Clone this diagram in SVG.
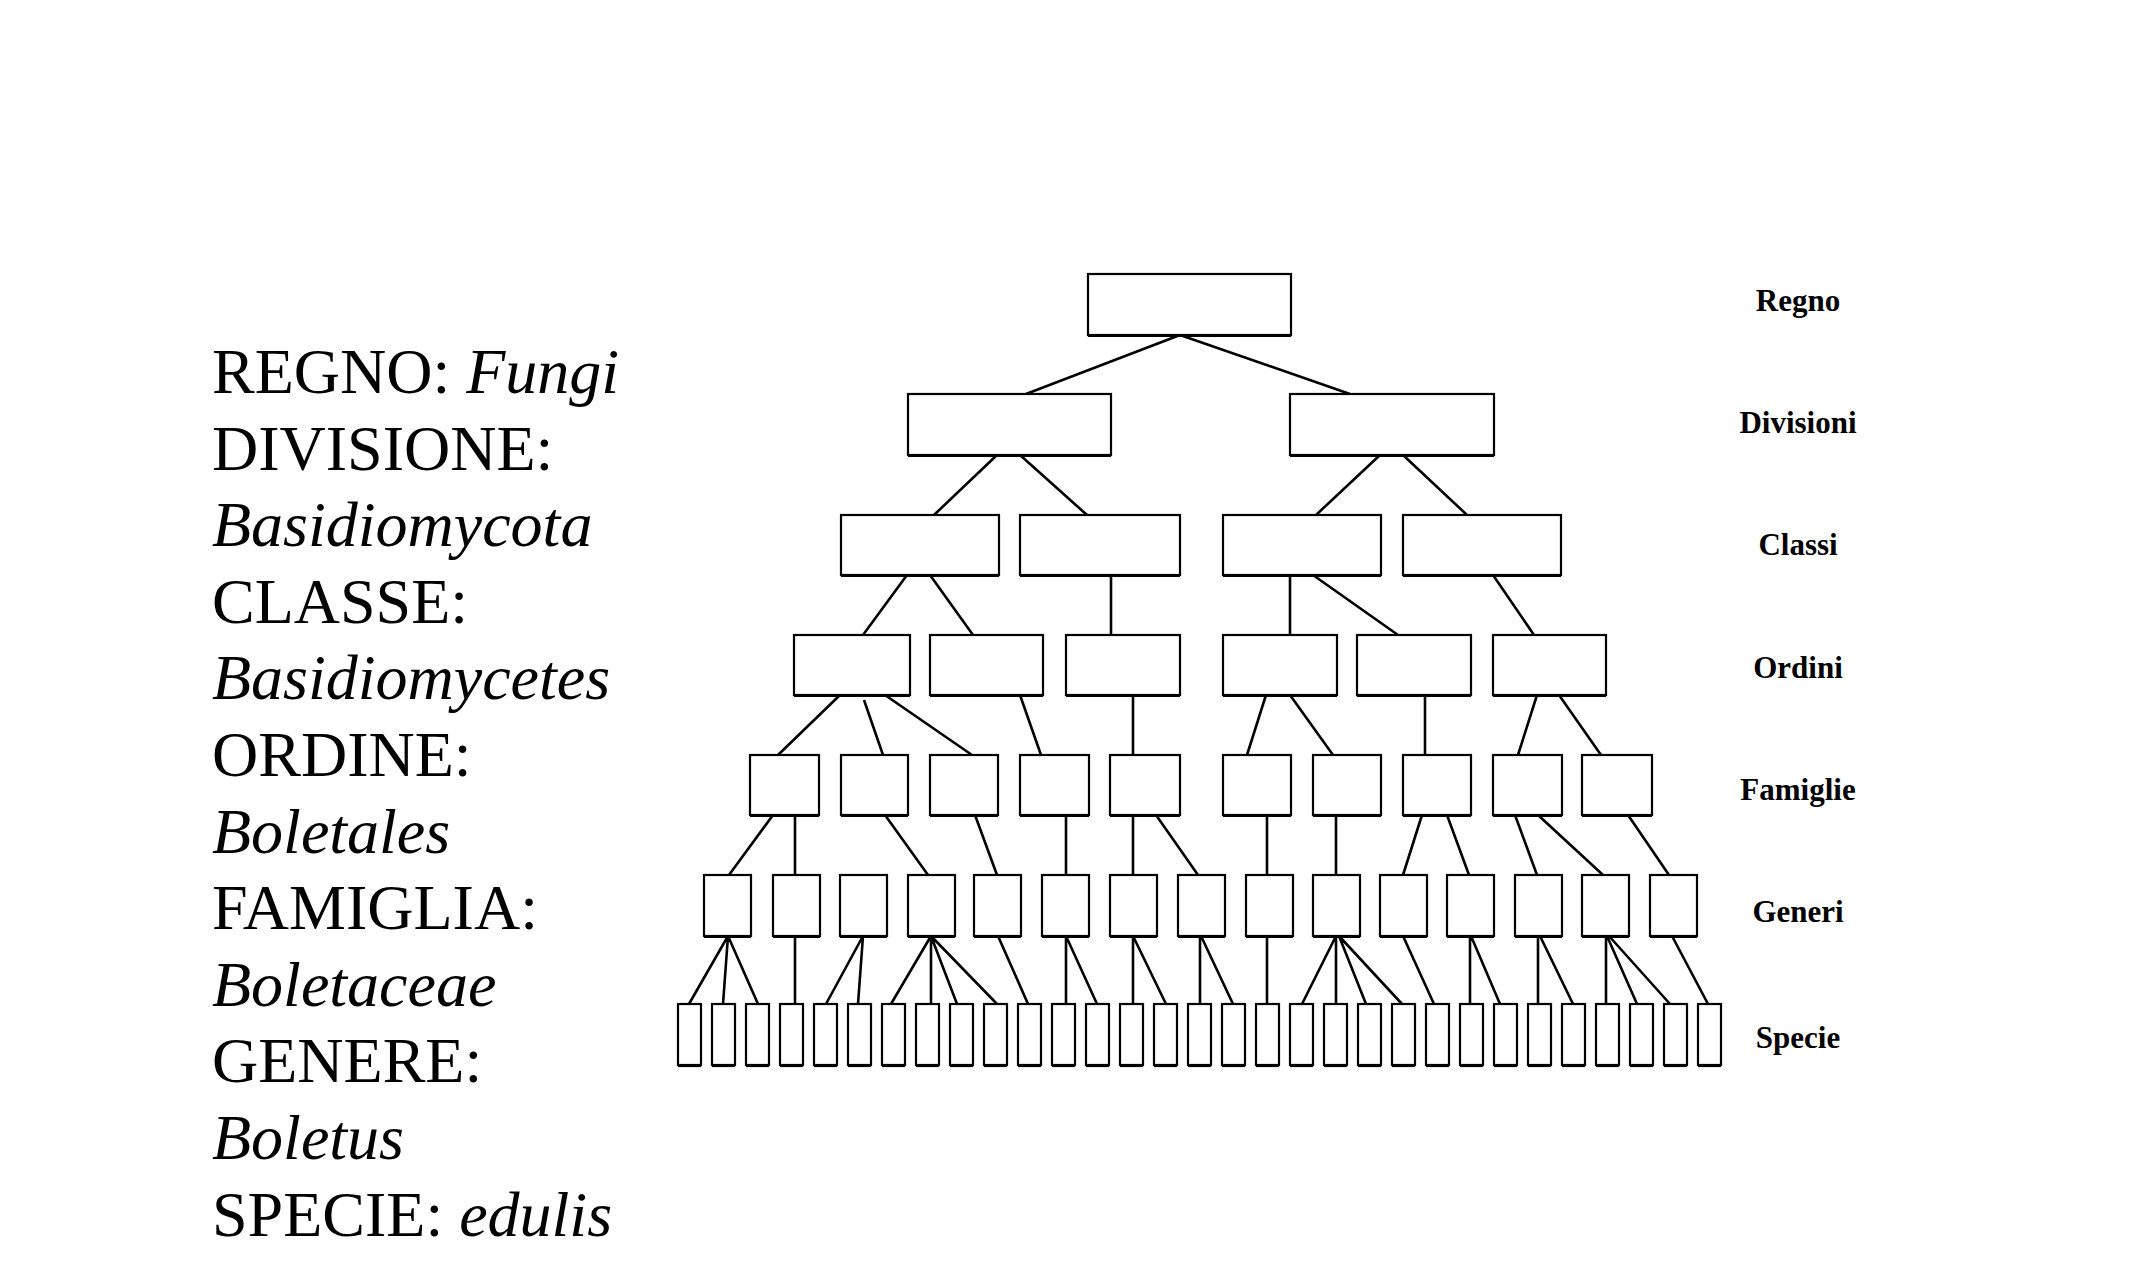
<svg xmlns="http://www.w3.org/2000/svg" width="2144" height="1288" viewBox="0 0 2144 1288">
<style>
.n rect{fill:#fff;stroke:#000;stroke-width:2.2}
.n path{fill:none;stroke:#000;stroke-width:2.2}
#connectors path{fill:none;stroke:#000;stroke-width:2.6}
.lt{font-family:"Liberation Serif","Times New Roman",serif;font-size:64px;fill:#000}
.lt .i{font-style:italic}
.rl{font-family:"Liberation Serif","Times New Roman",serif;font-size:31px;font-weight:bold;fill:#000;text-anchor:middle}
</style>
<rect width="2144" height="1288" fill="#fff"/>
<g id="left-text">
<text class="lt" x="212" y="393">REGNO: <tspan class="i">Fungi</tspan></text>
<text class="lt" x="212" y="469.5">DIVISIONE:</text>
<text class="lt" x="212" y="546"><tspan class="i">Basidiomycota</tspan></text>
<text class="lt" x="212" y="623">CLASSE:</text>
<text class="lt" x="212" y="699"><tspan class="i">Basidiomycetes</tspan></text>
<text class="lt" x="212" y="776">ORDINE:</text>
<text class="lt" x="212" y="852.5"><tspan class="i">Boletales</tspan></text>
<text class="lt" x="212" y="929">FAMIGLIA:</text>
<text class="lt" x="212" y="1006"><tspan class="i">Boletaceae</tspan></text>
<text class="lt" x="212" y="1082">GENERE:</text>
<text class="lt" x="212" y="1159"><tspan class="i">Boletus</tspan></text>
<text class="lt" x="212" y="1235.5">SPECIE: <tspan class="i">edulis</tspan></text>
</g>
<g id="level-labels">
<text class="rl" x="1798" y="311">Regno</text>
<text class="rl" x="1798" y="433">Divisioni</text>
<text class="rl" x="1798" y="555">Classi</text>
<text class="rl" x="1798" y="678">Ordini</text>
<text class="rl" x="1798" y="800">Famiglie</text>
<text class="rl" x="1798" y="922">Generi</text>
<text class="rl" x="1798" y="1048">Specie</text>
</g>
<g id="connectors">
<path d="M1180 335L1026 394M1180 335L1350 394"/>
<path d="M997 455L934 515M1020 455L1087 515M1380 455L1316 515M1403 455L1467 515"/>
<path d="M907 575L863 635M930 575L973 635M1111 575V635M1290 575V635M1313 575L1398 635M1493 575L1534 635"/>
<path d="M840 695L778 755M864 700L883 755M885 695L972 755M1020 695L1041 755M1133 695V755M1266 695L1247 755M1290 695L1333 755M1425 695V755M1537 695L1518 755M1559 695L1601 755"/>
<path d="M773 815L729 875M795 815V875M885 815L928 875M975 815L997 875M1066 815V875M1133 815V875M1156 815L1198 875M1267 815V875M1336 815V875M1422 815L1403 875M1447 815L1469 875M1515 815L1537 875M1538 815L1603 875M1628 815L1669 875"/>
<path d="M728 936L689 1004M728 936L723 1004M728 936L758 1004M795 936V1004M863 936L826 1004M863 936L858 1004M931 936L891 1004M931 936V1004M931 936L957 1004M931 936L997 1004M998 936L1028 1004M1066 936V1004M1066 936L1097 1004M1133 936V1004M1133 936L1166 1004M1200 936V1004M1201 936L1233 1004M1267 936V1004M1336 936L1302 1004M1336 936V1004M1339 936L1366 1004M1339 936L1402 1004M1403 936L1434 1004M1470 936V1004M1471 936L1500 1004M1538 936V1004M1540 936L1573 1004M1606 936V1004M1607 936L1637 1004M1609 936L1670 1004M1672 936L1708 1004"/>
</g>
<g id="regno" class="n"><rect x="1088" y="274" width="203" height="61"/><path d="M1088 336h203"/></g>
<g id="div1" class="n"><rect x="908" y="394" width="203" height="61"/><path d="M908 456h203"/></g>
<g id="div2" class="n"><rect x="1290" y="394" width="204" height="61"/><path d="M1290 456h204"/></g>
<g id="cls1" class="n"><rect x="841" y="515" width="158" height="60"/><path d="M841 576h158"/></g>
<g id="cls2" class="n"><rect x="1020" y="515" width="160" height="60"/><path d="M1020 576h160"/></g>
<g id="cls3" class="n"><rect x="1223" y="515" width="158" height="60"/><path d="M1223 576h158"/></g>
<g id="cls4" class="n"><rect x="1403" y="515" width="158" height="60"/><path d="M1403 576h158"/></g>
<g id="ord1" class="n"><rect x="794" y="635" width="116" height="60"/><path d="M794 696h116"/></g>
<g id="ord2" class="n"><rect x="930" y="635" width="113" height="60"/><path d="M930 696h113"/></g>
<g id="ord3" class="n"><rect x="1066" y="635" width="114" height="60"/><path d="M1066 696h114"/></g>
<g id="ord4" class="n"><rect x="1223" y="635" width="114" height="60"/><path d="M1223 696h114"/></g>
<g id="ord5" class="n"><rect x="1357" y="635" width="114" height="60"/><path d="M1357 696h114"/></g>
<g id="ord6" class="n"><rect x="1493" y="635" width="113" height="60"/><path d="M1493 696h113"/></g>
<g id="fam1" class="n"><rect x="750" y="755" width="69" height="60"/><path d="M750 816h69"/></g>
<g id="fam2" class="n"><rect x="841" y="755" width="67" height="60"/><path d="M841 816h67"/></g>
<g id="fam3" class="n"><rect x="930" y="755" width="68" height="60"/><path d="M930 816h68"/></g>
<g id="fam4" class="n"><rect x="1020" y="755" width="69" height="60"/><path d="M1020 816h69"/></g>
<g id="fam5" class="n"><rect x="1110" y="755" width="70" height="60"/><path d="M1110 816h70"/></g>
<g id="fam6" class="n"><rect x="1223" y="755" width="68" height="60"/><path d="M1223 816h68"/></g>
<g id="fam7" class="n"><rect x="1313" y="755" width="68" height="60"/><path d="M1313 816h68"/></g>
<g id="fam8" class="n"><rect x="1403" y="755" width="68" height="60"/><path d="M1403 816h68"/></g>
<g id="fam9" class="n"><rect x="1493" y="755" width="69" height="60"/><path d="M1493 816h69"/></g>
<g id="fam10" class="n"><rect x="1582" y="755" width="70" height="60"/><path d="M1582 816h70"/></g>
<g id="gen1" class="n"><rect x="704" y="875" width="47" height="61"/><path d="M704 937h47"/></g>
<g id="gen2" class="n"><rect x="773" y="875" width="47" height="61"/><path d="M773 937h47"/></g>
<g id="gen3" class="n"><rect x="840" y="875" width="47" height="61"/><path d="M840 937h47"/></g>
<g id="gen4" class="n"><rect x="908" y="875" width="47" height="61"/><path d="M908 937h47"/></g>
<g id="gen5" class="n"><rect x="974" y="875" width="47" height="61"/><path d="M974 937h47"/></g>
<g id="gen6" class="n"><rect x="1042" y="875" width="47" height="61"/><path d="M1042 937h47"/></g>
<g id="gen7" class="n"><rect x="1110" y="875" width="47" height="61"/><path d="M1110 937h47"/></g>
<g id="gen8" class="n"><rect x="1178" y="875" width="47" height="61"/><path d="M1178 937h47"/></g>
<g id="gen9" class="n"><rect x="1246" y="875" width="47" height="61"/><path d="M1246 937h47"/></g>
<g id="gen10" class="n"><rect x="1313" y="875" width="47" height="61"/><path d="M1313 937h47"/></g>
<g id="gen11" class="n"><rect x="1380" y="875" width="47" height="61"/><path d="M1380 937h47"/></g>
<g id="gen12" class="n"><rect x="1447" y="875" width="47" height="61"/><path d="M1447 937h47"/></g>
<g id="gen13" class="n"><rect x="1515" y="875" width="47" height="61"/><path d="M1515 937h47"/></g>
<g id="gen14" class="n"><rect x="1582" y="875" width="47" height="61"/><path d="M1582 937h47"/></g>
<g id="gen15" class="n"><rect x="1650" y="875" width="47" height="61"/><path d="M1650 937h47"/></g>
<g id="sp1" class="n"><rect x="678" y="1004" width="23" height="61"/><path d="M678 1066h23"/></g>
<g id="sp2" class="n"><rect x="712" y="1004" width="23" height="61"/><path d="M712 1066h23"/></g>
<g id="sp3" class="n"><rect x="746" y="1004" width="23" height="61"/><path d="M746 1066h23"/></g>
<g id="sp4" class="n"><rect x="780" y="1004" width="23" height="61"/><path d="M780 1066h23"/></g>
<g id="sp5" class="n"><rect x="814" y="1004" width="23" height="61"/><path d="M814 1066h23"/></g>
<g id="sp6" class="n"><rect x="848" y="1004" width="23" height="61"/><path d="M848 1066h23"/></g>
<g id="sp7" class="n"><rect x="882" y="1004" width="23" height="61"/><path d="M882 1066h23"/></g>
<g id="sp8" class="n"><rect x="916" y="1004" width="23" height="61"/><path d="M916 1066h23"/></g>
<g id="sp9" class="n"><rect x="950" y="1004" width="23" height="61"/><path d="M950 1066h23"/></g>
<g id="sp10" class="n"><rect x="984" y="1004" width="23" height="61"/><path d="M984 1066h23"/></g>
<g id="sp11" class="n"><rect x="1018" y="1004" width="23" height="61"/><path d="M1018 1066h23"/></g>
<g id="sp12" class="n"><rect x="1052" y="1004" width="23" height="61"/><path d="M1052 1066h23"/></g>
<g id="sp13" class="n"><rect x="1086" y="1004" width="23" height="61"/><path d="M1086 1066h23"/></g>
<g id="sp14" class="n"><rect x="1120" y="1004" width="23" height="61"/><path d="M1120 1066h23"/></g>
<g id="sp15" class="n"><rect x="1154" y="1004" width="23" height="61"/><path d="M1154 1066h23"/></g>
<g id="sp16" class="n"><rect x="1188" y="1004" width="23" height="61"/><path d="M1188 1066h23"/></g>
<g id="sp17" class="n"><rect x="1222" y="1004" width="23" height="61"/><path d="M1222 1066h23"/></g>
<g id="sp18" class="n"><rect x="1256" y="1004" width="23" height="61"/><path d="M1256 1066h23"/></g>
<g id="sp19" class="n"><rect x="1290" y="1004" width="23" height="61"/><path d="M1290 1066h23"/></g>
<g id="sp20" class="n"><rect x="1324" y="1004" width="23" height="61"/><path d="M1324 1066h23"/></g>
<g id="sp21" class="n"><rect x="1358" y="1004" width="23" height="61"/><path d="M1358 1066h23"/></g>
<g id="sp22" class="n"><rect x="1392" y="1004" width="23" height="61"/><path d="M1392 1066h23"/></g>
<g id="sp23" class="n"><rect x="1426" y="1004" width="23" height="61"/><path d="M1426 1066h23"/></g>
<g id="sp24" class="n"><rect x="1460" y="1004" width="23" height="61"/><path d="M1460 1066h23"/></g>
<g id="sp25" class="n"><rect x="1494" y="1004" width="23" height="61"/><path d="M1494 1066h23"/></g>
<g id="sp26" class="n"><rect x="1528" y="1004" width="23" height="61"/><path d="M1528 1066h23"/></g>
<g id="sp27" class="n"><rect x="1562" y="1004" width="23" height="61"/><path d="M1562 1066h23"/></g>
<g id="sp28" class="n"><rect x="1596" y="1004" width="23" height="61"/><path d="M1596 1066h23"/></g>
<g id="sp29" class="n"><rect x="1630" y="1004" width="23" height="61"/><path d="M1630 1066h23"/></g>
<g id="sp30" class="n"><rect x="1664" y="1004" width="23" height="61"/><path d="M1664 1066h23"/></g>
<g id="sp31" class="n"><rect x="1698" y="1004" width="23" height="61"/><path d="M1698 1066h23"/></g>
</svg>
